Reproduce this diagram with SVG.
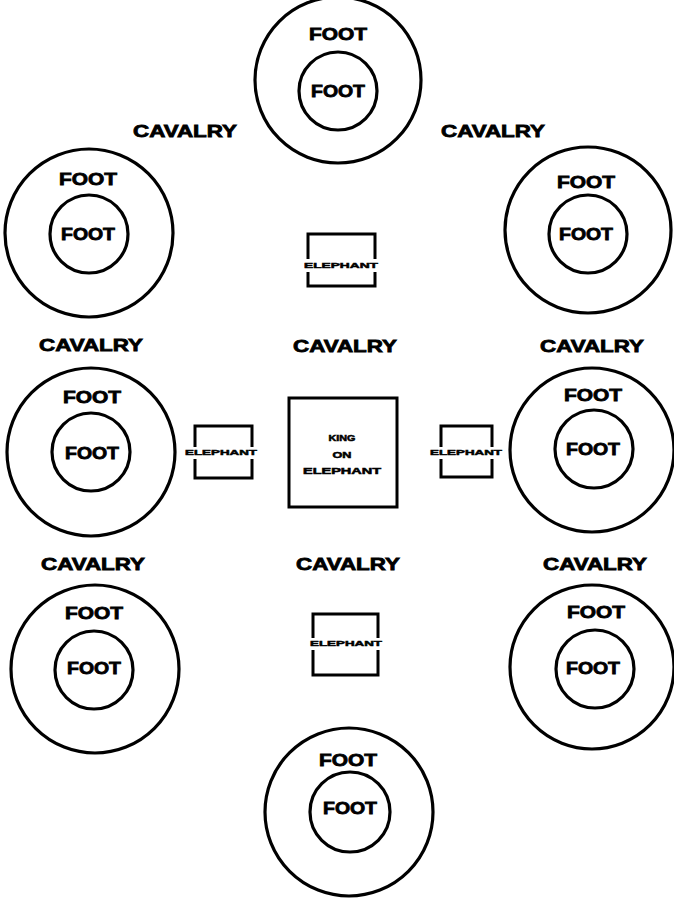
<svg xmlns="http://www.w3.org/2000/svg" width="674" height="900" viewBox="0 0 674 900">
<style>
.c{fill:none;stroke:#000;stroke-width:3.2}
.b{fill:none;stroke:#000;stroke-width:3;stroke-linejoin:miter}
text{font-family:"Liberation Sans","DejaVu Sans",sans-serif;font-weight:bold;fill:#000;stroke:#000;text-anchor:middle}
.cav{font-size:17px;stroke-width:0.8}
.ft{font-size:17px;stroke-width:0.8}
.el{font-size:8px;stroke-width:0.5}
.k{font-size:8.5px;stroke-width:0.5}
</style>
<rect width="674" height="900" fill="#fff"/>
<g id="foot-top">
<circle class="c" cx="338" cy="80" r="83"/><circle class="c" cx="338" cy="91" r="39"/>
<text class="ft" x="338" y="40" textLength="58" lengthAdjust="spacingAndGlyphs">FOOT</text>
<text class="ft" x="338" y="97" textLength="54" lengthAdjust="spacingAndGlyphs">FOOT</text>
</g>
<g id="foot-tl">
<circle class="c" cx="89" cy="233" r="84"/><circle class="c" cx="89" cy="234" r="39"/>
<text class="ft" x="88" y="185" textLength="58" lengthAdjust="spacingAndGlyphs">FOOT</text>
<text class="ft" x="88" y="240" textLength="54" lengthAdjust="spacingAndGlyphs">FOOT</text>
</g>
<g id="foot-tr">
<circle class="c" cx="588" cy="230" r="83"/><circle class="c" cx="588" cy="234" r="39"/>
<text class="ft" x="586" y="188" textLength="58" lengthAdjust="spacingAndGlyphs">FOOT</text>
<text class="ft" x="586" y="240" textLength="54" lengthAdjust="spacingAndGlyphs">FOOT</text>
</g>
<g id="foot-ml">
<circle class="c" cx="91" cy="452" r="84"/><circle class="c" cx="91" cy="452" r="39"/>
<text class="ft" x="92" y="403" textLength="58" lengthAdjust="spacingAndGlyphs">FOOT</text>
<text class="ft" x="92" y="459" textLength="54" lengthAdjust="spacingAndGlyphs">FOOT</text>
</g>
<g id="foot-mr">
<circle class="c" cx="592" cy="450" r="82"/><circle class="c" cx="594" cy="449" r="39"/>
<text class="ft" x="593" y="401" textLength="58" lengthAdjust="spacingAndGlyphs">FOOT</text>
<text class="ft" x="593" y="455" textLength="54" lengthAdjust="spacingAndGlyphs">FOOT</text>
</g>
<g id="foot-bl">
<circle class="c" cx="95" cy="669" r="84"/><circle class="c" cx="94" cy="670" r="39"/>
<text class="ft" x="94" y="619" textLength="58" lengthAdjust="spacingAndGlyphs">FOOT</text>
<text class="ft" x="94" y="674" textLength="54" lengthAdjust="spacingAndGlyphs">FOOT</text>
</g>
<g id="foot-br">
<circle class="c" cx="592" cy="667" r="82"/><circle class="c" cx="595" cy="669" r="39"/>
<text class="ft" x="596" y="618" textLength="58" lengthAdjust="spacingAndGlyphs">FOOT</text>
<text class="ft" x="593" y="674" textLength="54" lengthAdjust="spacingAndGlyphs">FOOT</text>
</g>
<g id="foot-bottom">
<circle class="c" cx="349" cy="812" r="84"/><circle class="c" cx="350" cy="812" r="40"/>
<text class="ft" x="348" y="766" textLength="58" lengthAdjust="spacingAndGlyphs">FOOT</text>
<text class="ft" x="350" y="814" textLength="54" lengthAdjust="spacingAndGlyphs">FOOT</text>
</g>
<g id="cavalry">
<text class="cav" x="185" y="137" textLength="104" lengthAdjust="spacingAndGlyphs">CAVALRY</text>
<text class="cav" x="493" y="137" textLength="104" lengthAdjust="spacingAndGlyphs">CAVALRY</text>
<text class="cav" x="91" y="351" textLength="104" lengthAdjust="spacingAndGlyphs">CAVALRY</text>
<text class="cav" x="345" y="352" textLength="104" lengthAdjust="spacingAndGlyphs">CAVALRY</text>
<text class="cav" x="592" y="352" textLength="104" lengthAdjust="spacingAndGlyphs">CAVALRY</text>
<text class="cav" x="93" y="570" textLength="104" lengthAdjust="spacingAndGlyphs">CAVALRY</text>
<text class="cav" x="348" y="570" textLength="104" lengthAdjust="spacingAndGlyphs">CAVALRY</text>
<text class="cav" x="595" y="570" textLength="104" lengthAdjust="spacingAndGlyphs">CAVALRY</text>
</g>
<g id="elephant-top">
<path class="b" d="M308,259 V234 H375 V259 M308,272 V286 H375 V272"/>
<text class="el" x="341" y="268" textLength="74" lengthAdjust="spacingAndGlyphs">ELEPHANT</text>
</g>
<g id="elephant-left">
<path class="b" d="M195,447 V426 H252 V447 M195,459 V478 H252 V459"/>
<text class="el" x="221" y="455" textLength="72" lengthAdjust="spacingAndGlyphs">ELEPHANT</text>
</g>
<g id="elephant-right">
<path class="b" d="M441,447 V426 H492 V447 M441,459 V477 H492 V459"/>
<text class="el" x="466" y="455" textLength="72" lengthAdjust="spacingAndGlyphs">ELEPHANT</text>
</g>
<g id="elephant-bottom">
<path class="b" d="M313,638 V614 H378 V638 M313,650 V675 H378 V650"/>
<text class="el" x="346" y="646" textLength="72" lengthAdjust="spacingAndGlyphs">ELEPHANT</text>
</g>
<g id="king">
<rect class="b" x="289" y="398" width="108" height="109"/>
<text class="k" x="342" y="441" textLength="27" lengthAdjust="spacingAndGlyphs">KING</text>
<text class="k" x="342" y="458" textLength="19" lengthAdjust="spacingAndGlyphs">ON</text>
<text class="k" x="342" y="474" textLength="78" lengthAdjust="spacingAndGlyphs">ELEPHANT</text>
</g>
<g id="connectors"/>
</svg>
